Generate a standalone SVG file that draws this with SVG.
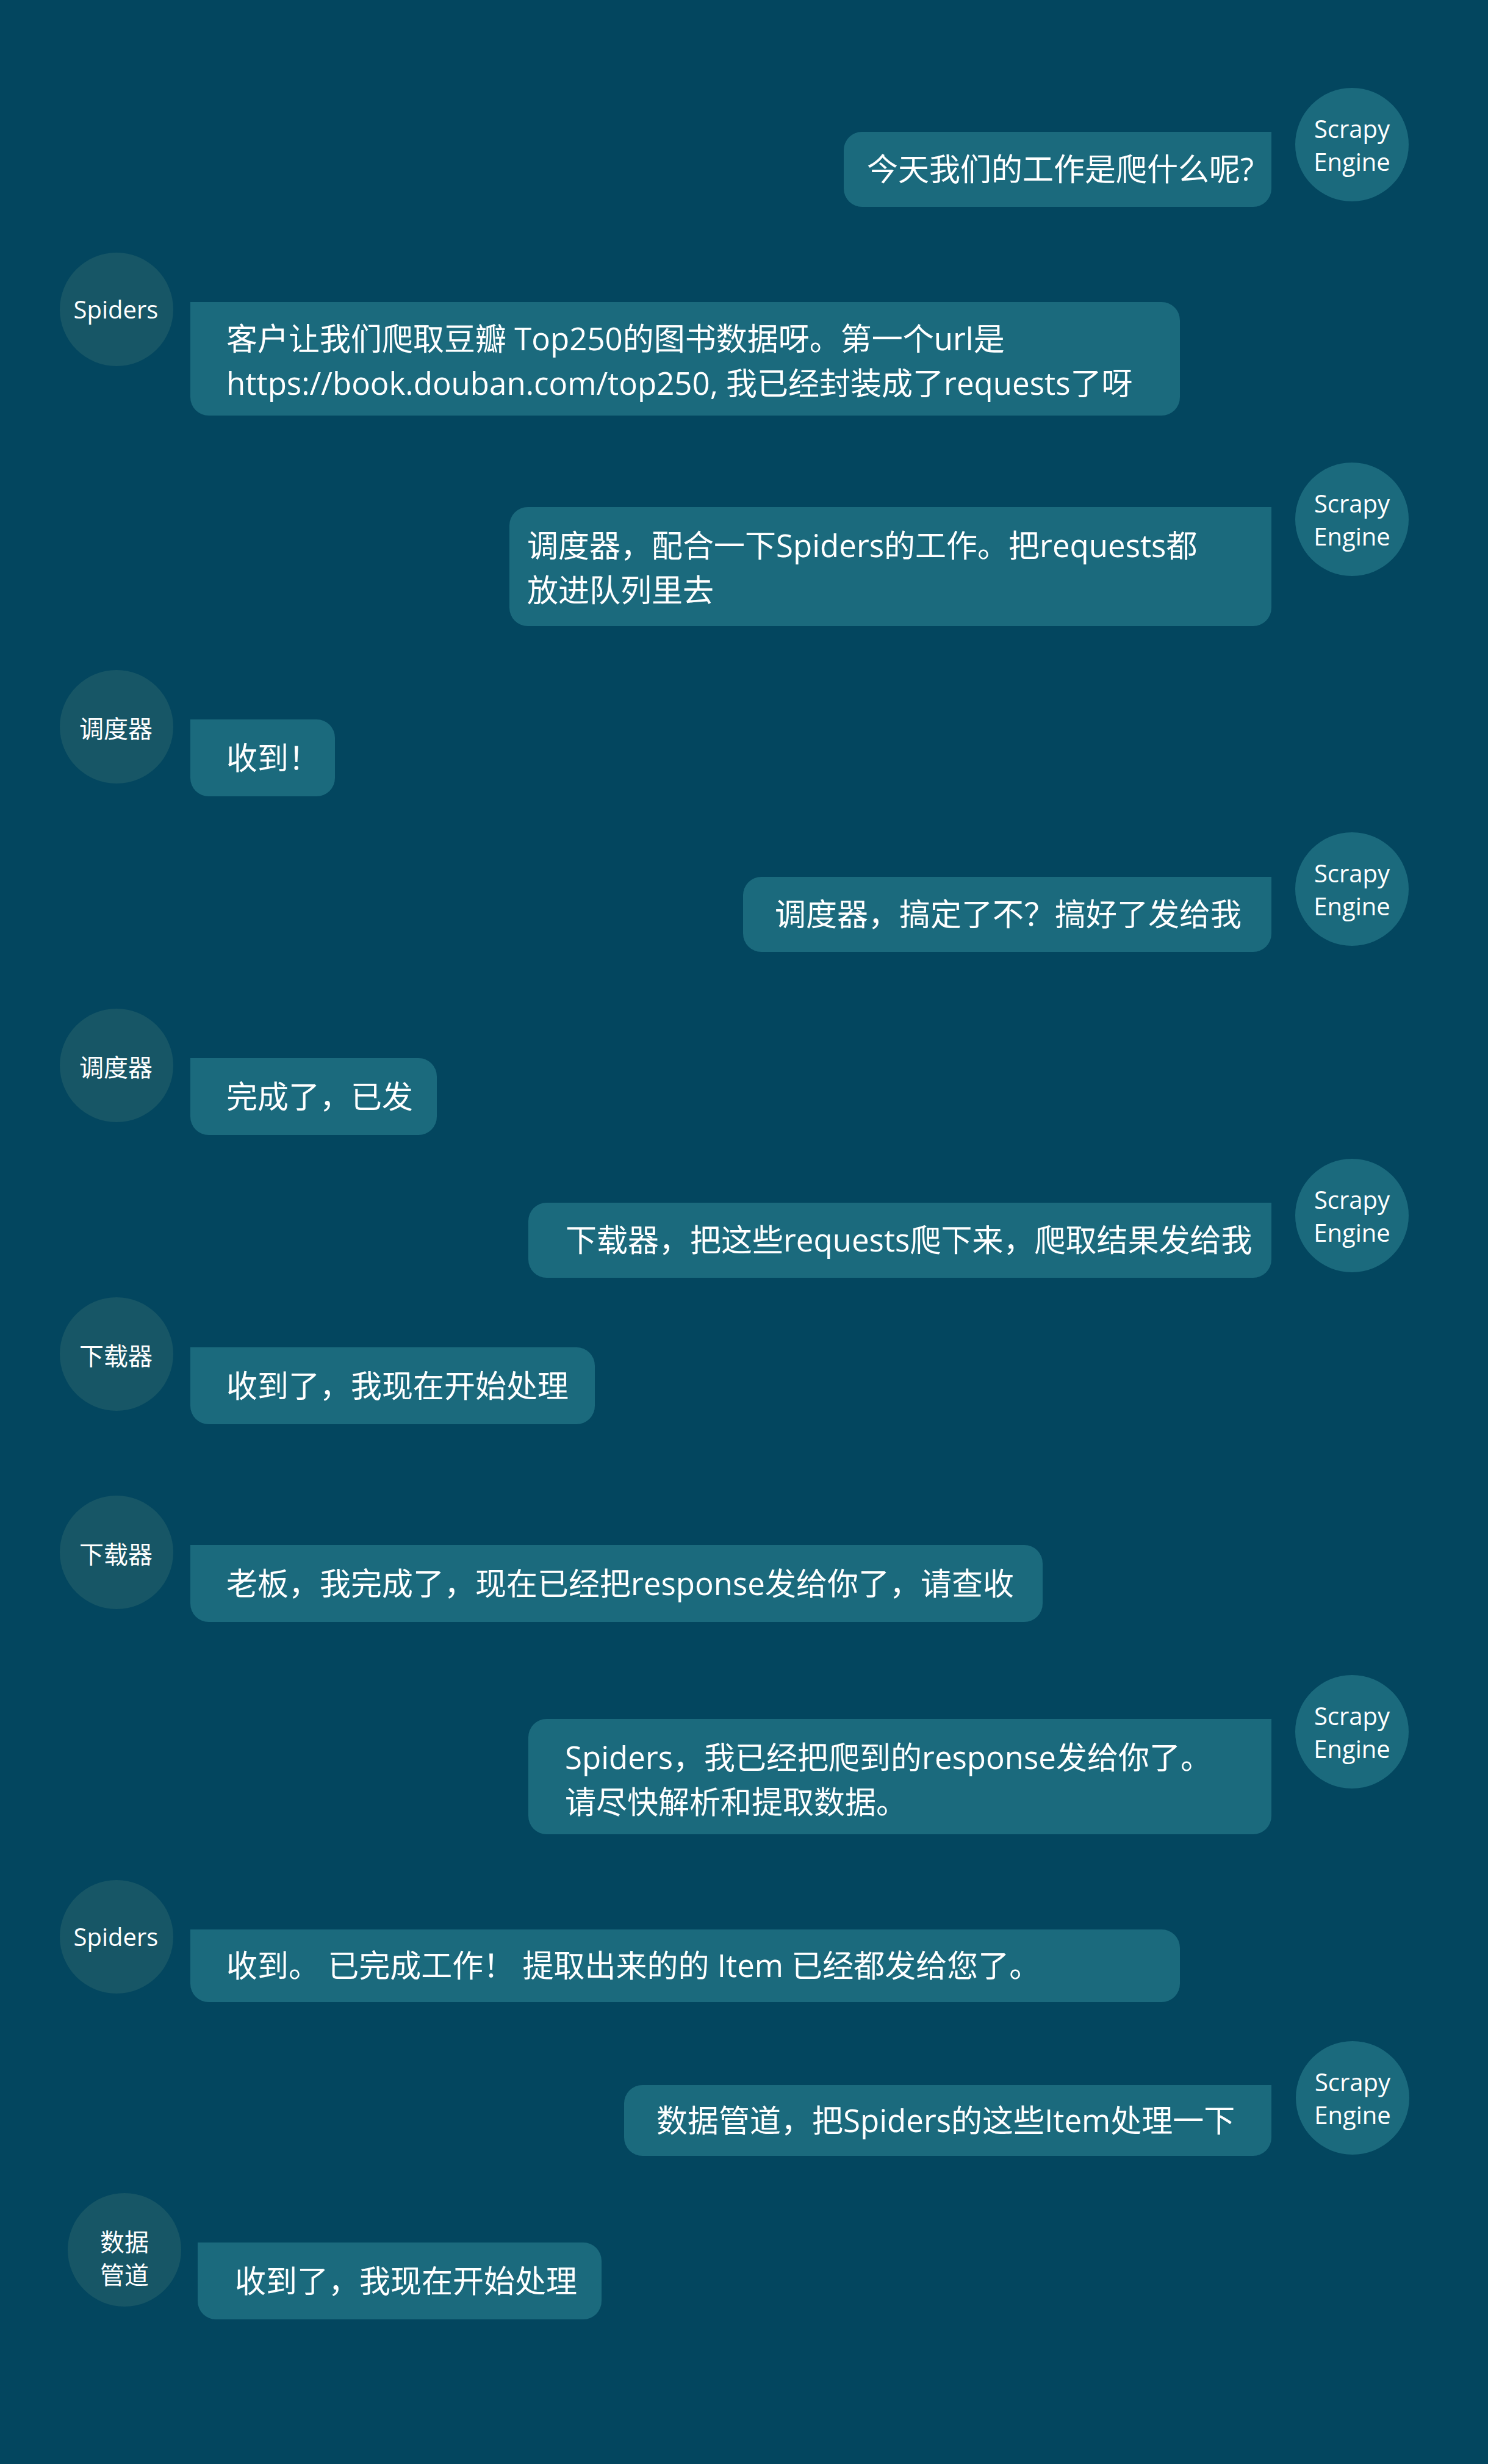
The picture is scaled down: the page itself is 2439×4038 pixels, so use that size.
<svg xmlns="http://www.w3.org/2000/svg" width="2439" height="4038" viewBox="0 0 2439 4038">
<style>
.bub{fill:#1B6A7D}
.av-r{fill:#1B6A7D}
.av-l{fill:#175666}
.msg{font-family:"Open Sans","Noto Sans CJK SC",sans-serif;font-size:51px;fill:#FFFFFF}
.lbl{font-family:"Open Sans","Noto Sans CJK SC",sans-serif;font-size:40px;fill:#FFFFFF;text-anchor:middle}
</style>
<rect width="2439" height="4038" fill="#03465F"/>
<g id="connectors"/>

<g id="engine-1"><circle class="av-r" cx="2216" cy="237" r="93"/><text class="lbl" x="2216" y="226">Scrapy</text><text class="lbl" x="2216" y="280">Engine</text></g>
<g id="msg-1"><path class="bub" d="M1413,216 H2084 V309 A30,30 0 0 1 2054,339 H1413 A30,30 0 0 1 1383,309 V246 A30,30 0 0 1 1413,216 Z"/><text class="msg" x="1421" y="296">今天我们的工作是爬什么呢?</text></g>

<g id="spiders-1"><circle class="av-l" cx="191" cy="507" r="93"/><text class="lbl" x="190" y="522">Spiders</text></g>
<g id="msg-2"><path class="bub" d="M312,495 H1904 A30,30 0 0 1 1934,525 V651 A30,30 0 0 1 1904,681 H342 A30,30 0 0 1 312,651 Z"/><text class="msg" x="371" y="574">客户让我们爬取豆瓣 Top250的图书数据呀。第一个url是</text><text class="msg" x="371" y="647">https://book.douban.com/top250, 我已经封装成了requests了呀</text></g>

<g id="engine-2"><circle class="av-r" cx="2216" cy="851" r="93"/><text class="lbl" x="2216" y="840">Scrapy</text><text class="lbl" x="2216" y="894">Engine</text></g>
<g id="msg-3"><path class="bub" d="M865,831 H2084 V996 A30,30 0 0 1 2054,1026 H865 A30,30 0 0 1 835,996 V861 A30,30 0 0 1 865,831 Z"/><text class="msg" x="864" y="913">调度器，配合一下Spiders的工作。把requests都</text><text class="msg" x="864" y="986">放进队列里去</text></g>

<g id="scheduler-1"><circle class="av-l" cx="191" cy="1191" r="93"/><text class="lbl" x="190" y="1209">调度器</text></g>
<g id="msg-4"><path class="bub" d="M312,1179 H519 A30,30 0 0 1 549,1209 V1275 A30,30 0 0 1 519,1305 H342 A30,30 0 0 1 312,1275 Z"/><text class="msg" x="371" y="1261">收到！</text></g>

<g id="engine-3"><circle class="av-r" cx="2216" cy="1457" r="93"/><text class="lbl" x="2216" y="1446">Scrapy</text><text class="lbl" x="2216" y="1500">Engine</text></g>
<g id="msg-5"><path class="bub" d="M1248,1437 H2084 V1530 A30,30 0 0 1 2054,1560 H1248 A30,30 0 0 1 1218,1530 V1467 A30,30 0 0 1 1248,1437 Z"/><text class="msg" x="1270" y="1517">调度器，搞定了不？搞好了发给我</text></g>

<g id="scheduler-2"><circle class="av-l" cx="191" cy="1746" r="93"/><text class="lbl" x="190" y="1764">调度器</text></g>
<g id="msg-6"><path class="bub" d="M312,1734 H686 A30,30 0 0 1 716,1764 V1830 A30,30 0 0 1 686,1860 H342 A30,30 0 0 1 312,1830 Z"/><text class="msg" x="371" y="1816">完成了，已发</text></g>

<g id="engine-4"><circle class="av-r" cx="2216" cy="1992" r="93"/><text class="lbl" x="2216" y="1981">Scrapy</text><text class="lbl" x="2216" y="2035">Engine</text></g>
<g id="msg-7"><path class="bub" d="M896,1971 H2084 V2064 A30,30 0 0 1 2054,2094 H896 A30,30 0 0 1 866,2064 V2001 A30,30 0 0 1 896,1971 Z"/><text class="msg" x="927" y="2051">下载器，把这些requests爬下来，爬取结果发给我</text></g>

<g id="downloader-1"><circle class="av-l" cx="191" cy="2219" r="93"/><text class="lbl" x="190" y="2237">下载器</text></g>
<g id="msg-8"><path class="bub" d="M312,2208 H945 A30,30 0 0 1 975,2238 V2304 A30,30 0 0 1 945,2334 H342 A30,30 0 0 1 312,2304 Z"/><text class="msg" x="371" y="2290">收到了，我现在开始处理</text></g>

<g id="downloader-2"><circle class="av-l" cx="191" cy="2544" r="93"/><text class="lbl" x="190" y="2562">下载器</text></g>
<g id="msg-9"><path class="bub" d="M312,2532 H1679 A30,30 0 0 1 1709,2562 V2628 A30,30 0 0 1 1679,2658 H342 A30,30 0 0 1 312,2628 Z"/><text class="msg" x="371" y="2614">老板，我完成了，现在已经把response发给你了，请查收</text></g>

<g id="engine-5"><circle class="av-r" cx="2216" cy="2838" r="93"/><text class="lbl" x="2216" y="2827">Scrapy</text><text class="lbl" x="2216" y="2881">Engine</text></g>
<g id="msg-10"><path class="bub" d="M896,2817 H2084 V2976 A30,30 0 0 1 2054,3006 H896 A30,30 0 0 1 866,2976 V2847 A30,30 0 0 1 896,2817 Z"/><text class="msg" x="926" y="2899">Spiders，我已经把爬到的response发给你了。</text><text class="msg" x="926" y="2972">请尽快解析和提取数据。</text></g>

<g id="spiders-2"><circle class="av-l" cx="191" cy="3174" r="93"/><text class="lbl" x="190" y="3189">Spiders</text></g>
<g id="msg-11"><path class="bub" d="M312,3162 H1904 A30,30 0 0 1 1934,3192 V3251 A30,30 0 0 1 1904,3281 H342 A30,30 0 0 1 312,3251 Z"/><text class="msg" x="371" y="3240">收到。 已完成工作！ 提取出来的的 Item 已经都发给您了。</text></g>

<g id="engine-6"><circle class="av-r" cx="2217" cy="3438" r="93"/><text class="lbl" x="2217" y="3427">Scrapy</text><text class="lbl" x="2217" y="3481">Engine</text></g>
<g id="msg-12"><path class="bub" d="M1053,3417 H2084 V3503 A30,30 0 0 1 2054,3533 H1053 A30,30 0 0 1 1023,3503 V3447 A30,30 0 0 1 1053,3417 Z"/><text class="msg" x="1076" y="3494">数据管道，把Spiders的这些Item处理一下</text></g>

<g id="pipeline-1"><circle class="av-l" cx="204" cy="3687" r="93"/><text class="lbl" x="204" y="3689">数据</text><text class="lbl" x="204" y="3743">管道</text></g>
<g id="msg-13"><path class="bub" d="M324,3675 H956 A30,30 0 0 1 986,3705 V3771 A30,30 0 0 1 956,3801 H354 A30,30 0 0 1 324,3771 Z"/><text class="msg" x="385" y="3757">收到了，我现在开始处理</text></g>
</svg>
